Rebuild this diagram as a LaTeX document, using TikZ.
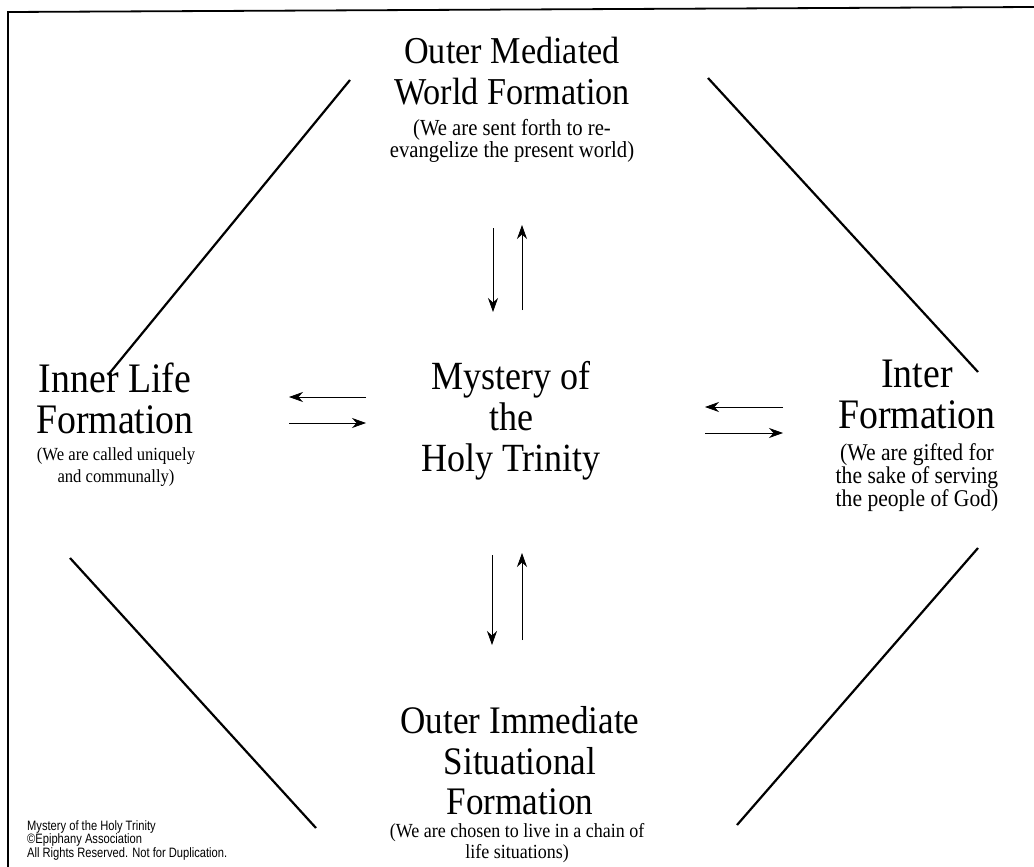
\documentclass[tikz,border=0pt]{standalone}
\usepackage{fontspec}
\setmainfont[FakeStretch=0.9]{Liberation Serif}
\newfontfamily\notefont[FakeStretch=0.82]{Liberation Sans}
\usepackage{tikz}
\usetikzlibrary{arrows.meta, positioning}

\begin{document}
\begin{tikzpicture}[
  x=1pt, y=-1pt,
  head/.style={align=center, inner sep=0pt, font=\fontsize{#1}{41}\selectfont},
  sub/.style={align=center, inner sep=0pt, font=\fontsize{#1}{22}\selectfont},
  note/.style={align=left, inner sep=0pt, anchor=north west, font=\notefont\fontsize{13.6}{13.5}\selectfont},
  edge/.style={line width=2.2pt},
  arrow/.style={-{Stealth[length=14pt,width=10pt]}, line width=0.7pt}]

  \useasboundingbox (0,0) rectangle (1034,867);
  \draw[line width=1.8pt] (8,867) -- (8,12) -- (1034,7);

  \node[head=38] (outer) at (512,71) {Outer Mediated\\World Formation};
  \node[sub=23] (outersub) at (512,141) {(We are sent forth to re-\\evangelize the present world)};

  \node[head=40] (mystery) at (511,421) {Mystery of\\the\\Holy Trinity};

  \node[head=42] (inner) at (115,398) {Inner Life\\Formation};
  \node[sub=18.5] (innersub) at (116,467) {(We are called uniquely\\and communally)};

  \node[head=42] (inter) at (917,394) {Inter\\Formation};
  \node[sub=24] (intersub) at (917,478) {(We are gifted for\\the sake of serving\\the people of God)};

  \node[head=39, font=\fontsize{39}{40.5}\selectfont] (immediate) at (520,761) {Outer Immediate\\Situational\\Formation};
  \node[sub=20, font=\fontsize{20}{20.5}\selectfont] (immediatesub) at (517,843) {(We are chosen to live in a chain of\\life situations)};

  \node[note] (copy) at (27,820) {Mystery of the Holy Trinity\\\textcopyright Epiphany Association\\All Rights Reserved. Not for Duplication.};

  \coordinate (tl1) at (108,375);  \coordinate (tl2) at (350,80);
  \coordinate (tr1) at (708,78);   \coordinate (tr2) at (978,372);
  \coordinate (bl1) at (70,558);   \coordinate (bl2) at (316,828);
  \coordinate (br1) at (978,548);  \coordinate (br2) at (737,825);

  \draw[edge] (tl1) -- (tl2);
  \draw[edge] (tr1) -- (tr2);
  \draw[edge] (bl1) -- (bl2);
  \draw[edge] (br1) -- (br2);

  \coordinate (td1) at (493,228);  \coordinate (td2) at (493,312);
  \coordinate (tu1) at (522,310);  \coordinate (tu2) at (522,225);
  \coordinate (bd1) at (492,555);  \coordinate (bd2) at (492,645);
  \coordinate (bu1) at (522,640);  \coordinate (bu2) at (522,553);
  \coordinate (ll1) at (366,397);  \coordinate (ll2) at (289,397);
  \coordinate (lr1) at (289,423);  \coordinate (lr2) at (366,423);
  \coordinate (rl1) at (783,407);  \coordinate (rl2) at (705,407);
  \coordinate (rr1) at (705,433);  \coordinate (rr2) at (783,433);

  \draw[arrow] (td1) -- (td2);
  \draw[arrow] (tu1) -- (tu2);
  \draw[arrow] (bd1) -- (bd2);
  \draw[arrow] (bu1) -- (bu2);
  \draw[arrow] (ll1) -- (ll2);
  \draw[arrow] (lr1) -- (lr2);
  \draw[arrow] (rl1) -- (rl2);
  \draw[arrow] (rr1) -- (rr2);
\end{tikzpicture}
\end{document}
